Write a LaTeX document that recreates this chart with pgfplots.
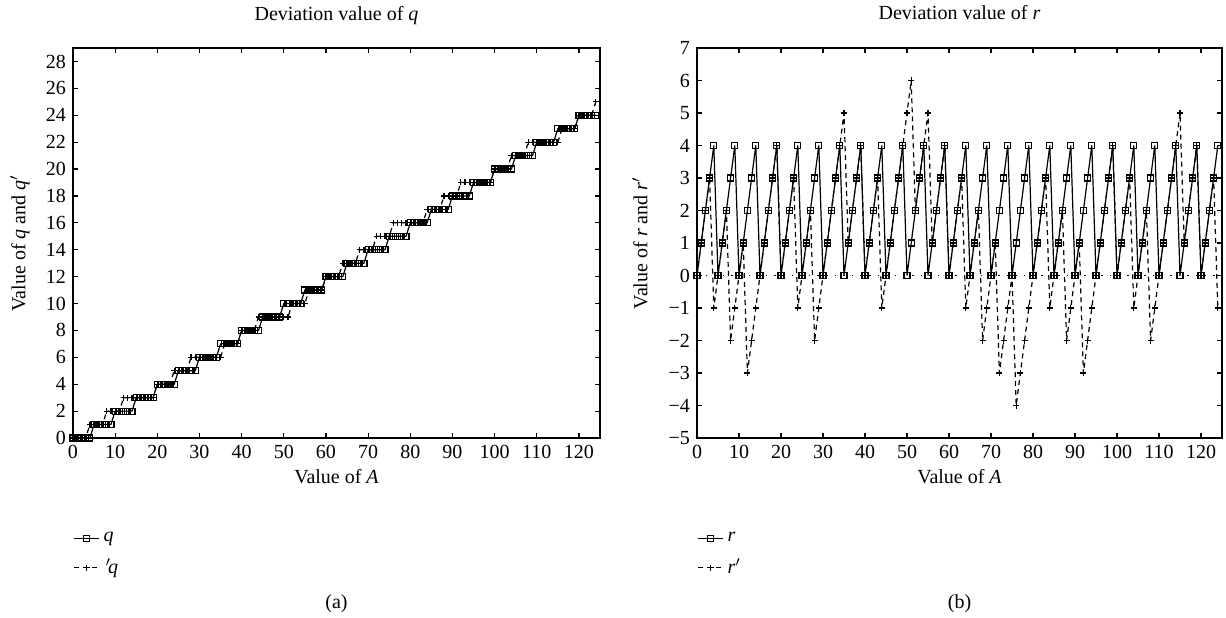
\documentclass[border=0pt]{standalone}
\usepackage{fontspec}
\setmainfont{Liberation Serif}
\usepackage{pgfplots}
\usepackage{pgfplotstable}
\pgfplotsset{compat=1.18}

\pgfplotstableread{
A q qp r rp
0 0 0 0 0
1 0 0 1 1
2 0 0 2 2
3 0 0 3 3
4 0 1 4 -1
5 1 1 0 0
6 1 1 1 1
7 1 1 2 2
8 1 2 3 -2
9 1 2 4 -1
10 2 2 0 0
11 2 2 1 1
12 2 3 2 -3
13 2 3 3 -2
14 2 3 4 -1
15 3 3 0 0
16 3 3 1 1
17 3 3 2 2
18 3 3 3 3
19 3 3 4 4
20 4 4 0 0
21 4 4 1 1
22 4 4 2 2
23 4 4 3 3
24 4 5 4 -1
25 5 5 0 0
26 5 5 1 1
27 5 5 2 2
28 5 6 3 -2
29 5 6 4 -1
30 6 6 0 0
31 6 6 1 1
32 6 6 2 2
33 6 6 3 3
34 6 6 4 4
35 7 6 0 5
36 7 7 1 1
37 7 7 2 2
38 7 7 3 3
39 7 7 4 4
40 8 8 0 0
41 8 8 1 1
42 8 8 2 2
43 8 8 3 3
44 8 9 4 -1
45 9 9 0 0
46 9 9 1 1
47 9 9 2 2
48 9 9 3 3
49 9 9 4 4
50 10 9 0 5
51 10 9 1 6
52 10 10 2 2
53 10 10 3 3
54 10 10 4 4
55 11 10 0 5
56 11 11 1 1
57 11 11 2 2
58 11 11 3 3
59 11 11 4 4
60 12 12 0 0
61 12 12 1 1
62 12 12 2 2
63 12 12 3 3
64 12 13 4 -1
65 13 13 0 0
66 13 13 1 1
67 13 13 2 2
68 13 14 3 -2
69 13 14 4 -1
70 14 14 0 0
71 14 14 1 1
72 14 15 2 -3
73 14 15 3 -2
74 14 15 4 -1
75 15 15 0 0
76 15 16 1 -4
77 15 16 2 -3
78 15 16 3 -2
79 15 16 4 -1
80 16 16 0 0
81 16 16 1 1
82 16 16 2 2
83 16 16 3 3
84 16 17 4 -1
85 17 17 0 0
86 17 17 1 1
87 17 17 2 2
88 17 18 3 -2
89 17 18 4 -1
90 18 18 0 0
91 18 18 1 1
92 18 19 2 -3
93 18 19 3 -2
94 18 19 4 -1
95 19 19 0 0
96 19 19 1 1
97 19 19 2 2
98 19 19 3 3
99 19 19 4 4
100 20 20 0 0
101 20 20 1 1
102 20 20 2 2
103 20 20 3 3
104 20 21 4 -1
105 21 21 0 0
106 21 21 1 1
107 21 21 2 2
108 21 22 3 -2
109 21 22 4 -1
110 22 22 0 0
111 22 22 1 1
112 22 22 2 2
113 22 22 3 3
114 22 22 4 4
115 23 22 0 5
116 23 23 1 1
117 23 23 2 2
118 23 23 3 3
119 23 23 4 4
120 24 24 0 0
121 24 24 1 1
122 24 24 2 2
123 24 24 3 3
124 24 25 4 -1
}\data

\pgfplotsset{
  common/.style={
    scale only axis, height=195pt,
    xmin=0, xmax=125, xtick={0,10,...,120},
    tick align=inside, major tick length=2.5pt,
    axis line style={line width=0.6pt},
    every tick/.style={line width=0.6pt,black},
    /pgf/number format/assume math mode=true,
    tick label style={font=\fontsize{10}{12}\selectfont},
    label style={font=\fontsize{10}{12}\selectfont},
    title style={font=\fontsize{10}{12}\selectfont, at={(axis description cs:0.5,1)}, anchor=base, yshift=8pt},
    xlabel style={at={(axis description cs:0.5,0)}, anchor=base, yshift=-22.5pt},
    legend style={at={(axis description cs:0,0)}, anchor=north west, yshift=-43pt,
      draw=none, fill=none, row sep=3pt, font=\fontsize{10}{12}\selectfont, inner xsep=0pt},
    legend cell align=left,
    legend image code/.code={%
      \draw[mark repeat=2,mark phase=2] plot coordinates {(0cm,0cm) (0.22cm,0cm) (0.44cm,0cm)};},
    every axis plot/.append style={line width=0.6pt, black, mark size=1.5pt},
  },
  qstyle/.style={solid, mark=square},
  qpstyle/.style={dash pattern=on 2.5pt off 2pt, mark=+, mark options={solid}},
}

\begin{document}
\begin{tikzpicture}
\useasboundingbox (-36.5pt,-89.5pt) rectangle (576.5pt,219pt);
\begin{axis}[common, name=left, at={(0,0)}, anchor=south west, width=263.5pt,
  ymin=0, ymax=29, ytick={0,2,...,28},
  title={Deviation value of \textit{q}},
  xlabel={Value of \textit{A}},
  ylabel={Value of \textit{q} and \textit{q}$'$},
  ylabel style={at={(axis description cs:-0.1006,0.5)}, anchor=center},
]
\addplot[qstyle] table[x=A, y=q] {\data};
\addlegendentry{\textit{q}}
\addplot[qpstyle] table[x=A, y=qp] {\data};
\addlegendentry{{\itshape\kern1pt$'$\kern-1.5pt q}}
\end{axis}
\path (left.south) ++(0,-85pt) node[anchor=base, font=\fontsize{10}{12}\selectfont] {(a)};

\begin{axis}[common, name=right, at={(312pt,0)}, anchor=south west, width=262.5pt,
  ymin=-5, ymax=7, ytick={-5,-4,...,7},
  yticklabels={−5,−4,−3,−2,−1,0,1,2,3,4,5,6,7},
  title={Deviation value of \textit{r}},
  xlabel={Value of \textit{A}},
  ylabel={Value of \textit{r} and \textit{r}$'$},
  ylabel style={at={(axis description cs:-0.1086,0.5)}, anchor=center},
]
\addplot[forget plot, line width=0.7pt, dash pattern=on 0.8pt off 3.5pt, mark=none] coordinates {(0,0) (125,0)};
\addplot[qstyle] table[x=A, y=r] {\data};
\addlegendentry{\textit{r}}
\addplot[qpstyle] table[x=A, y=rp] {\data};
\addlegendentry{\textit{r}$'$}
\end{axis}
\path (right.south) ++(0,-85pt) node[anchor=base, font=\fontsize{10}{12}\selectfont] {(b)};
\end{tikzpicture}
\end{document}
